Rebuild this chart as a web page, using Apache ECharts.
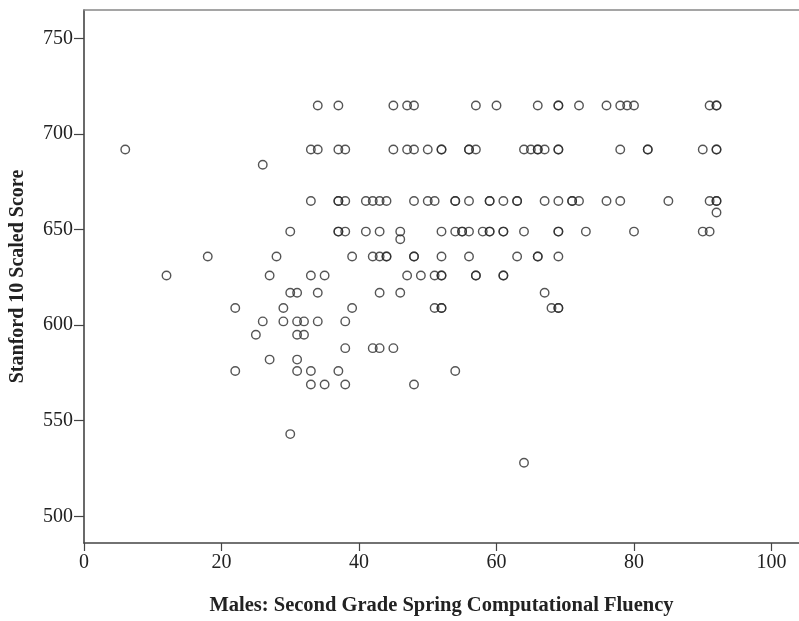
<!DOCTYPE html>
<html>
<head>
<meta charset="utf-8">
<script src="https://cdn.jsdelivr.net/npm/echarts@6/dist/echarts.min.js"></script>
<style>
html,body{margin:0;padding:0;background:#fff;}
#chart{width:799px;height:621px;}
</style>
</head>
<body>
<div id="chart"></div>
<script>
// Score levels and the fluency values observed at each level
const scoreLevels = [715, 692, 684, 665, 659, 649, 645, 636, 626, 617, 609, 602, 595, 588, 582, 576, 569, 543, 528];
const fluencyByLevel = [
  [34, 37, 45, 47, 48, 57, 60, 66, 69, 69, 72, 76, 78, 79, 80, 91, 92, 92],
  [6, 33, 34, 37, 38, 45, 47, 48, 50, 52, 52, 56, 56, 57, 64, 65, 66, 66, 67, 69, 69, 78, 82, 82, 90, 92, 92],
  [26],
  [33, 37, 37, 38, 41, 42, 43, 44, 48, 50, 51, 54, 54, 56, 59, 59, 61, 63, 63, 67, 69, 71, 71, 72, 76, 78, 85, 91, 92, 92],
  [92],
  [30, 37, 37, 38, 41, 43, 46, 52, 54, 55, 55, 56, 58, 59, 59, 61, 61, 64, 69, 69, 73, 80, 90, 91],
  [46],
  [18, 28, 39, 42, 43, 44, 44, 48, 48, 52, 56, 63, 66, 66, 69],
  [12, 27, 33, 35, 47, 49, 51, 52, 52, 57, 57, 61, 61],
  [30, 31, 34, 43, 46, 67],
  [22, 29, 39, 51, 52, 52, 68, 69, 69],
  [26, 29, 31, 32, 34, 38],
  [25, 31, 32],
  [38, 42, 43, 45],
  [27, 31],
  [22, 31, 33, 37, 54],
  [33, 35, 38, 48],
  [30],
  [64]
];
const xTicks = [0, 20, 40, 60, 80, 100];
const yTicks = [500, 550, 600, 650, 700, 750];
const xTitle = 'Males: Second Grade Spring Computational Fluency';
const yTitle = 'Stanford 10 Scaled Score';

const points = [];
scoreLevels.forEach((s, i) => fluencyByLevel[i].forEach(f => points.push([f, s])));

const serif = '"Liberation Serif", "DejaVu Serif", serif';
const chart = echarts.init(document.getElementById('chart'));
chart.setOption({
  animation: false,
  backgroundColor: '#ffffff',
  grid: { left: 83, right: 0, top: 10, bottom: 70, containLabel: false },
  xAxis: [{
    type: 'value', min: 0, max: 104, position: 'bottom',
    name: xTitle, nameLocation: 'middle', nameGap: 52,
    nameTextStyle: { fontFamily: serif, fontWeight: 'bold', fontSize: 20.5, color: '#222' },
    splitLine: { show: false },
    axisLine: { show: true, lineStyle: { color: '#444', width: 1.6 } },
    axisTick: { show: true, length: 8, customValues: xTicks, lineStyle: { color: '#444', width: 1.2 } },
    axisLabel: { customValues: xTicks, margin: 10, fontFamily: serif, fontSize: 20, color: '#222' }
  }, {
    type: 'value', min: 0, max: 104, position: 'top',
    splitLine: { show: false },
    axisLine: { show: true, lineStyle: { color: '#888', width: 1.6 } },
    axisTick: { show: false }, axisLabel: { show: false }
  }],
  yAxis: {
    type: 'value', min: 486, max: 765,
    name: yTitle, nameLocation: 'middle', nameGap: 56, nameRotate: 90,
    nameTextStyle: { fontFamily: serif, fontWeight: 'bold', fontSize: 20, color: '#222' },
    splitLine: { show: false },
    axisLine: { show: true, lineStyle: { color: '#444', width: 1.6 } },
    axisTick: { show: true, length: 10, customValues: yTicks, lineStyle: { color: '#444', width: 1.2 } },
    axisLabel: { customValues: yTicks, margin: 11, fontFamily: serif, fontSize: 20, color: '#222' }
  },
  series: [{
    type: 'scatter',
    data: points,
    symbol: 'circle',
    symbolSize: 8.5,
    itemStyle: { color: 'rgba(255,255,255,0)', borderColor: '#2a2a2a', borderWidth: 1.4 }
  }]
});
</script>
</body>
</html>
